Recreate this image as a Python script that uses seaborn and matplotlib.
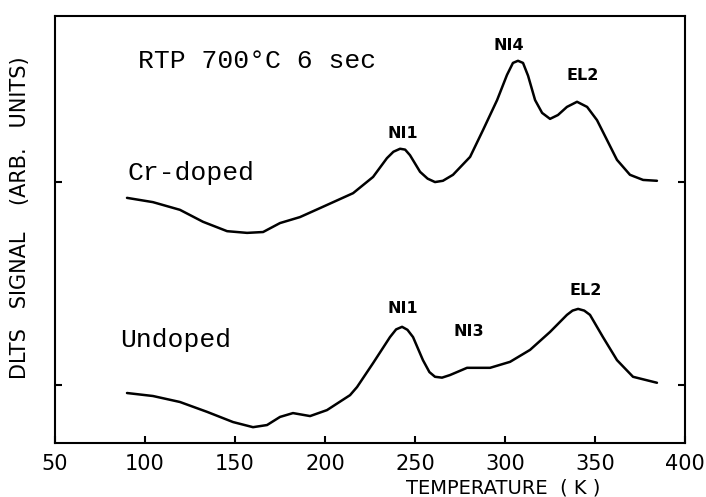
import numpy as np
import pandas as pd
import matplotlib
matplotlib.use("Agg")
import matplotlib.pyplot as plt
import seaborn as sns

# DLTS spectra after RTP at 700 C for 6 s (signal in arbitrary units)
temp_cr = [90.0, 104.4, 119.4, 132.2, 145.6, 156.7, 165.6, 175.0, 186.1, 197.2,
           215.6, 226.7, 234.4, 238.0, 241.7, 244.5, 247.2, 252.8, 257.0, 261.1,
           265.5, 271.1, 280.6, 287.8, 295.6, 301.1, 304.4, 307.2, 310.0, 312.8,
           316.7, 320.6, 325.0, 329.4, 334.4, 340.0, 345.6, 351.1, 356.0, 362.2,
           369.4, 376.7, 384.4]
signal_cr = [57.4, 56.4, 54.6, 51.8, 49.6, 49.2, 49.4, 51.5, 52.9, 55.0,
             58.5, 62.3, 66.7, 68.2, 68.9, 68.7, 67.4, 63.5, 61.9, 61.1,
             61.4, 62.8, 67.0, 73.3, 80.3, 86.2, 89.0, 89.5, 89.0, 86.0,
             80.3, 77.3, 75.9, 76.8, 78.7, 79.9, 78.7, 75.6, 71.5, 66.3,
             62.8, 61.6, 61.4]

temp_un = [90.0, 104.4, 119.4, 134.4, 148.9, 160.0, 167.8, 175.0, 182.2, 191.7,
           201.1, 213.9, 217.8, 226.7, 236.1, 239.5, 242.8, 245.8, 248.9, 254.4,
           258.0, 261.1, 265.0, 269.4, 278.9, 291.7, 302.8, 313.9, 325.0, 334.4,
           337.5, 340.6, 344.0, 347.2, 354.4, 362.2, 371.1, 384.4]
signal_un = [11.7, 11.0, 9.6, 7.3, 4.9, 3.7, 4.2, 6.1, 7.0, 6.3,
             7.7, 11.2, 13.1, 18.7, 24.8, 26.6, 27.2, 26.5, 24.8, 19.4,
             16.6, 15.5, 15.3, 15.9, 17.6, 17.6, 19.0, 21.8, 26.0, 30.0,
             31.0, 31.4, 31.0, 30.0, 24.8, 19.4, 15.5, 14.1]

# Baseline tick marks for the two spectra
baselines = [61.2, 13.6]

x_ticks = [50, 100, 150, 200, 250, 300, 350, 400]

# Peak labels: (text, temperature, signal)
peaks_cr = [("NI1", 243.0, 72.5), ("NI4", 302.0, 93.0), ("EL2", 343.0, 86.0)]
peaks_un = [("NI1", 243.0, 31.5), ("NI3", 280.0, 26.0), ("EL2", 345.0, 35.8)]

df = pd.concat([
    pd.DataFrame({"T": temp_cr, "S": signal_cr, "sample": "Cr-doped"}),
    pd.DataFrame({"T": temp_un, "S": signal_un, "sample": "Undoped"}),
])

sns.set_theme(style="white")
plt.rcParams["font.family"] = ["DejaVu Sans"]

fig = plt.figure(figsize=(7.06, 4.97), dpi=100)
ax = fig.add_axes([0.0779, 0.1087, 0.8924, 0.8592])

sns.lineplot(data=df, x="T", y="S", units="sample", estimator=None, sort=False,
             color="black", linewidth=1.8, ax=ax, legend=False,
             solid_joinstyle="round", solid_capstyle="round")

ax.set_xlim(50, 400)
ax.set_ylim(0, 100)
ax.set_xticks(x_ticks)
ax.set_xticklabels([str(t) for t in x_ticks])
ax.set_yticks(baselines)
ax.set_yticklabels([])

for side in ["left", "right", "top", "bottom"]:
    ax.spines[side].set_visible(True)
    ax.spines[side].set_linewidth(1.5)
    ax.spines[side].set_color("black")

ax.tick_params(axis="x", direction="in", length=5, width=1.5, colors="black",
               labelsize=15, pad=8)
ax.tick_params(axis="y", direction="in", length=5, width=1.5, colors="black",
               left=True, right=True)
ax.tick_params(axis="x", bottom=True, top=False)

ax.set_xlabel("TEMPERATURE  ( K )", fontsize=14, color="black")
ax.xaxis.set_label_coords(0.711, -0.105)
ax.xaxis.label.set_va("center")
ax.set_ylabel("DLTS   SIGNAL    (ARB.   UNITS)", fontsize=15, color="black")
ax.yaxis.set_label_coords(-0.056, 0.527)
ax.yaxis.label.set_va("center")

mono = "Liberation Mono"
ax.text(96, 89.5, "RTP 700°C 6 sec", family=mono, fontsize=19, color="black",
        ha="left", va="center")
ax.text(90, 63.2, "Cr-doped", family=mono, fontsize=19, color="black",
        ha="left", va="center")
ax.text(86, 24.0, "Undoped", family=mono, fontsize=19, color="black",
        ha="left", va="center")

for text, t, s in peaks_cr + peaks_un:
    ax.text(t, s, text, fontsize=11.5, fontweight="bold", color="black",
            ha="center", va="center")

ax.grid(False)
fig.savefig("out.png", dpi=100, facecolor="white")
